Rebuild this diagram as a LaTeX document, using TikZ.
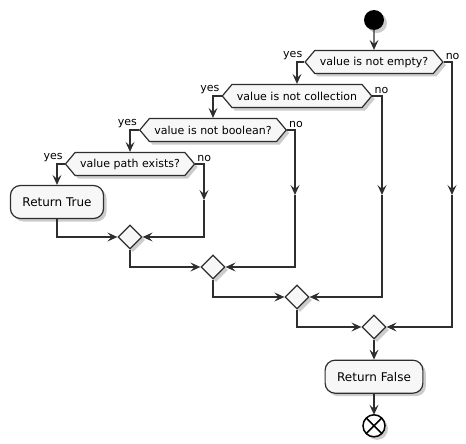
\documentclass[tikz,border=0pt]{standalone}
\usepackage{fontspec}
\setmainfont{DejaVu Sans}
\definecolor{umlfill}{HTML}{F7F7F7}
\definecolor{umlline}{HTML}{2E2E2E}
\usetikzlibrary{arrows.meta, shapes.symbols, shapes.geometric, positioning, shadows}

\begin{document}
\begin{tikzpicture}[x=1pt, y=-1pt,
    every node/.style={font=\fontsize{11}{13}\selectfont},
    shdw/.style={drop shadow={shadow xshift=3pt, shadow yshift=-3pt,
                 opacity=0.2, fill=black}},
    cond/.style={shape=signal, signal to=east and west,
                 signal pointer angle=100, draw=umlline, fill=umlfill,
                 line width=1.2pt, inner xsep=5pt, inner ysep=3pt,
                 minimum height=23pt, shdw},
    act/.style={rectangle, rounded corners=10pt, draw=umlline,
                fill=umlfill, line width=1.2pt, inner xsep=12pt,
                minimum height=33pt, font=\fontsize{12}{14}\selectfont, shdw},
    mrg/.style={diamond, aspect=1, draw=umlline, fill=umlfill,
                line width=1.2pt, inner sep=0pt, minimum size=24pt, shdw},
    startpt/.style={circle, fill=black, inner sep=0pt,
                    minimum size=20pt, shdw},
    stoppt/.style={circle, draw=black, fill=white, line width=1.5pt,
                   inner sep=0pt, outer sep=0pt, minimum size=22pt, shdw},
    yeslbl/.style={anchor=south east, inner sep=1.5pt},
    nolbl/.style={anchor=south west, inner sep=1.5pt},
    arr/.style={-{Stealth[length=10pt, width=9pt, inset=4pt]},
                line width=1.2pt, draw=umlline}
  ]
  \useasboundingbox (0,0) rectangle (466,444);

  \node[startpt] (start) at (374,20) {};
  \node[cond] (empty) at (374,62)  {value is not empty?};
  \node[cond] (coll)  at (297,96)  {value is not collection};
  \node[cond] (bool)  at (213,130) {value is not boolean?};
  \node[cond] (path)  at (130,164) {value path exists?};
  \node[act]  (rtrue) at (57,202)  {Return True};

  \node[mrg] (mpath)  at (130,237) {};
  \node[mrg] (mbool)  at (213,267) {};
  \node[mrg] (mcoll)  at (297,297) {};
  \node[mrg] (mempty) at (374,327) {};

  \node[act, below=20pt of mempty] (rfalse) {Return False};
  \node[stoppt, below=21pt of rfalse] (stop) {};
  \draw[line width=1.5pt] (stop.north west) -- (stop.south east)
                          (stop.north east) -- (stop.south west);

  % ends of the empty no branches
  \coordinate (noempty) at (452,195);
  \coordinate (nocoll)  at (382,195);
  \coordinate (nobool)  at (295,195);
  \coordinate (nopath)  at (204,200);

  \draw[arr] (start) -- (empty);
  \draw[arr] (empty.west) node[yeslbl] {yes} -| (coll.north);
  \draw[arr] (coll.west)  node[yeslbl] {yes} -| (bool.north);
  \draw[arr] (bool.west)  node[yeslbl] {yes} -| (path.north);
  \draw[arr] (path.west)  node[yeslbl] {yes} -| (rtrue.north);

  \draw[arr] (empty.east) node[nolbl] {no} -| (noempty);
  \draw[arr] (coll.east)  node[nolbl] {no} -| (nocoll);
  \draw[arr] (bool.east)  node[nolbl] {no} -| (nobool);
  \draw[arr] (path.east)  node[nolbl] {no} -| (nopath);

  % merges
  \draw[arr] (rtrue.south) |- (mpath.west);
  \draw[arr] (nopath) |- (mpath.east);
  \draw[arr] (mpath.south) |- (mbool.west);
  \draw[arr] (nobool) |- (mbool.east);
  \draw[arr] (mbool.south) |- (mcoll.west);
  \draw[arr] (nocoll) |- (mcoll.east);
  \draw[arr] (mcoll.south) |- (mempty.west);
  \draw[arr] (noempty) |- (mempty.east);

  \draw[arr] (mempty) -- (rfalse);
  \draw[arr] (rfalse) -- (stop);
\end{tikzpicture}
\end{document}
